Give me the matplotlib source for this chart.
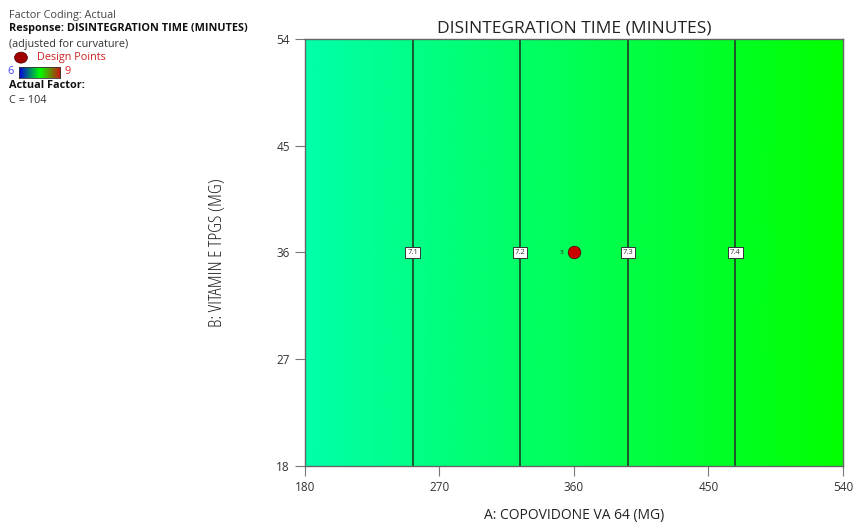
import matplotlib
matplotlib.use('Agg')
import matplotlib.pyplot as plt
import numpy as np
from matplotlib.colors import LinearSegmentedColormap, Normalize
from matplotlib.patches import Ellipse

plt.rcParams['font.family'] = ['Open Sans', 'DejaVu Sans']

# response surface (A vs response, flat in B)
a_levels = [180, 270, 360, 450, 540]
b_levels = [18, 54]
response = [7.0, 7.125, 7.25, 7.375, 7.5]
contour_levels = [7.1, 7.2, 7.3, 7.4]

x_ticks = [180, 270, 360, 450, 540]
y_ticks = [18, 27, 36, 45, 54]

design_a = [360]
design_b = [36]
design_n = ['3']

cmap = LinearSegmentedColormap.from_list(
    'de', ['#0000ff', '#00ffff', '#00ff00', '#ffff00', '#ff0000'])
legend_cmap = LinearSegmentedColormap.from_list('leg', ['#0000e0', '#00ff00', '#d01010'])
norm = Normalize(vmin=6, vmax=9)

fig = plt.figure(figsize=(8.56, 5.24), dpi=100)
ax = fig.add_axes([0.3563, 0.1107, 0.6285, 0.8149])

A, B = np.meshgrid(a_levels, b_levels)
Z = np.tile(response, (len(b_levels), 1))
ax.pcolormesh(A, B, Z, cmap=cmap, norm=norm, shading='gouraud')
cs = ax.contour(A, B, Z, levels=contour_levels, colors='#1f4a2a', linewidths=1.3)

label_pos = [(np.interp(l, response, a_levels), 36) for l in contour_levels]
lbls = ax.clabel(cs, fmt='%.1f', fontsize=5.5, manual=label_pos, inline=False)
for t in lbls:
    t.set_rotation(0)
    t.set_color('#333333')
    t.set_bbox(dict(boxstyle='square,pad=0.25', fc='white', ec='#333333', lw=0.7))

ax.scatter(design_a, design_b, s=80, color='#c80000', edgecolor='#600000',
           linewidth=0.6, zorder=5)
for a, b, n in zip(design_a, design_b, design_n):
    ax.text(a - 7, b, n, fontsize=4.5, ha='right', va='center', color='#222222')

ax.set_xlim(180, 540)
ax.set_ylim(18, 54)
ax.set_xticks(x_ticks)
ax.set_yticks(y_ticks)
ax.tick_params(direction='out', length=7, width=0.8, color='#777777',
               labelsize=8.5, labelcolor='#333333', pad=4)
for s in ax.spines.values():
    s.set_color('#666666')
    s.set_linewidth(1.0)

ax.set_title('DISINTEGRATION TIME (MINUTES)', fontsize=12.5, color='#222222', pad=5)
ax.set_xlabel('A: COPOVIDONE VA 64 (MG)', fontsize=10, color='#222222', labelpad=10)
ax.set_ylabel('B: VITAMIN E TPGS (MG)', fontsize=13.5, color='#222222', labelpad=36,
              fontstretch='condensed')

# legend block in top-left
fs = 7.8
fig.text(0.011, 0.971, 'Factor Coding: Actual', fontsize=fs, color='#444444', va='center')
fig.text(0.011, 0.945, 'Response: DISINTEGRATION TIME (MINUTES)', fontsize=fs,
         fontweight='bold', color='#111111', va='center')
fig.text(0.011, 0.916, '(adjusted for curvature)', fontsize=fs, color='#333333', va='center')
fig.patches.append(Ellipse((0.0245, 0.890), 0.015, 0.021, transform=fig.transFigure,
                           fc='#a00000', ec='#500000', lw=0.5, figure=fig))
fig.text(0.043, 0.890, 'Design Points', fontsize=fs, color='#cc2222', va='center')
fig.text(0.009, 0.863, '6', fontsize=fs, color='#4444ff', va='center')
cb_ax = fig.add_axes([0.022, 0.852, 0.048, 0.021])
cb_ax.imshow(np.linspace(6, 9, 100)[None, :], cmap=legend_cmap, norm=norm, aspect='auto')
cb_ax.set_xticks([])
cb_ax.set_yticks([])
for s in cb_ax.spines.values():
    s.set_color('#333333')
    s.set_linewidth(0.6)
fig.text(0.075, 0.863, '9', fontsize=fs, color='#dd2222', va='center')
fig.text(0.011, 0.836, 'Actual Factor:', fontsize=fs, fontweight='bold', color='#111111', va='center')
fig.text(0.011, 0.809, 'C = 104', fontsize=fs, color='#333333', va='center')

fig.savefig('out.png', dpi=100, facecolor='white')
